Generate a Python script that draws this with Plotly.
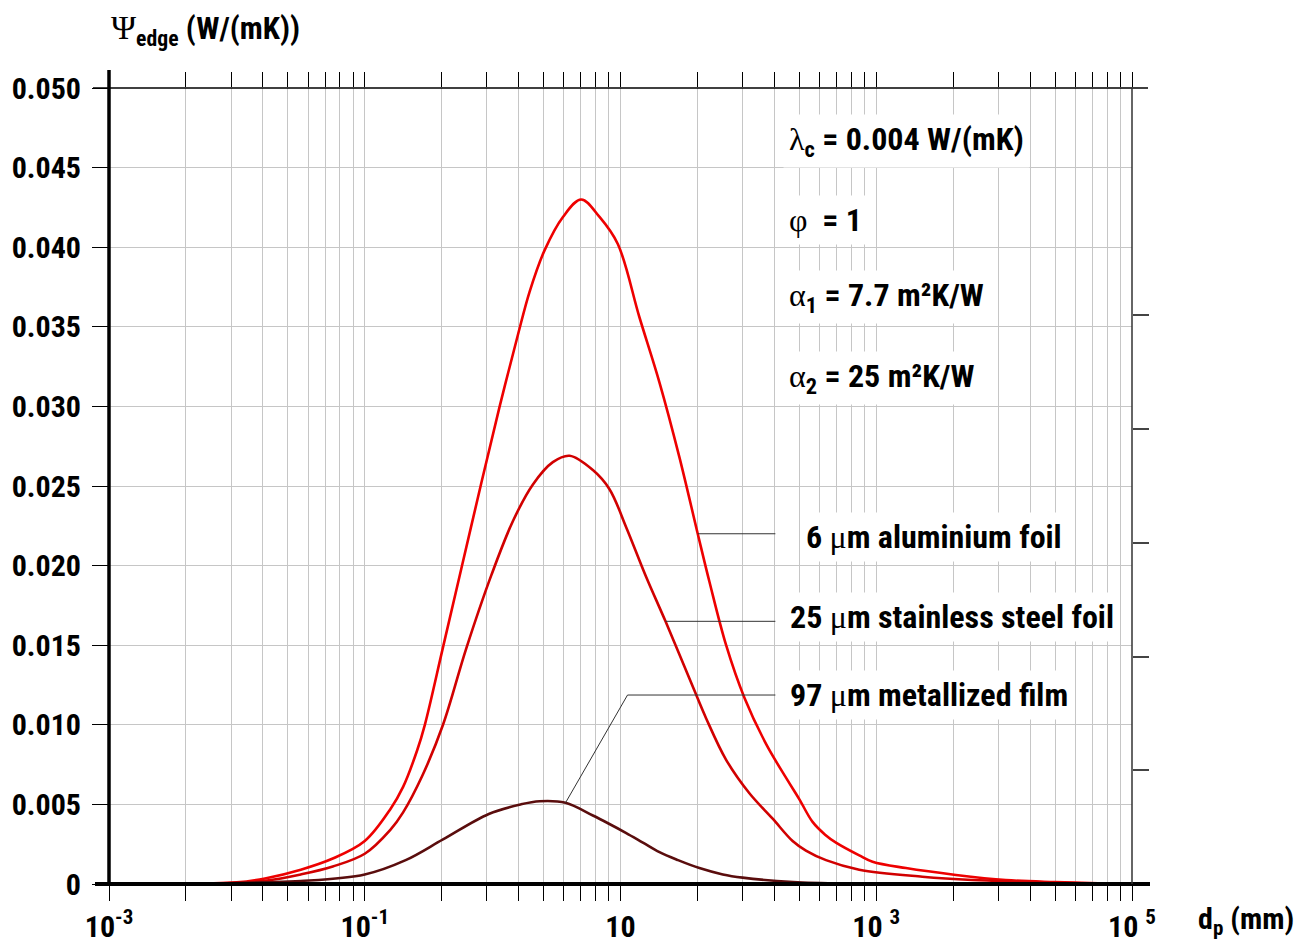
import plotly.graph_objects as go

# ---- data (x stored as exponent of the labelled log axis) ----
al_logd = [-2.47, -2.0, -1.78, -1.5, -1.25, -1.0, -0.8, -0.7, -0.59, -0.53, -0.39, -0.245, -0.088,
           0.055, 0.198, 0.289, 0.406, 0.55, 0.693, 0.836, 0.979, 1.148, 1.305, 1.461, 1.604, 1.695,
           1.826, 1.969, 2.138, 2.30, 2.40, 2.502, 2.60, 2.685, 2.867, 2.971, 3.232, 3.623, 4.013, 4.40, 4.8, 5.0]
al_psi = [0.0, 0.0001, 0.00035, 0.0009, 0.0016, 0.0027, 0.0047, 0.0061, 0.0084, 0.0100, 0.0148, 0.0198, 0.0252,
          0.0300, 0.0345, 0.0372, 0.0398, 0.0419, 0.0430, 0.0419, 0.0402, 0.0356, 0.0315, 0.0268, 0.0220, 0.0190,
          0.0150, 0.0117, 0.0088, 0.0066, 0.0053, 0.0039, 0.0031, 0.0026, 0.0018, 0.0014, 0.0010, 0.00057,
          0.00025, 0.00012, 0.00003, 0.0]

ss_logd = [-2.4, -2.0, -1.78, -1.5, -1.25, -1.0, -0.8, -0.7, -0.55, -0.388, -0.206, -0.01, 0.159, 0.315,
           0.471, 0.602, 0.784, 0.914, 1.045, 1.2, 1.352, 1.565, 1.67, 1.826, 2.008, 2.19, 2.346, 2.45, 2.607,
           2.867, 3.36, 3.75, 4.14, 4.6, 5.0]
ss_psi = [0.0, 0.00008, 0.0002, 0.0006, 0.0011, 0.0019, 0.0034, 0.0045, 0.0068, 0.0100, 0.0148, 0.0194, 0.0228,
          0.0251, 0.0265, 0.0269, 0.0260, 0.0248, 0.0224, 0.0193, 0.0165, 0.0124, 0.0104, 0.0078, 0.0057, 0.0041,
          0.0027, 0.0021, 0.0015, 0.0009, 0.00046, 0.00025, 0.00015, 0.00005, 0.0]

mf_logd = [-2.3, -1.8, -1.5, -1.0, -0.68, -0.388, -0.03, 0.22, 0.368, 0.57, 0.784, 0.906, 1.045, 1.175,
           1.305, 1.45, 1.617, 1.8, 1.955, 2.35, 2.8, 3.5, 5.0]
mf_psi = [0.0, 0.0001, 0.00018, 0.0006, 0.0015, 0.0028, 0.0044, 0.0050, 0.0052, 0.0051, 0.0043, 0.0038, 0.0032,
          0.0026, 0.0020, 0.0015, 0.0010, 0.0006, 0.0004, 0.00013, 0.00003, 0.0, 0.0]

series_names = ["6 \u03bcm aluminium foil", "25 \u03bcm stainless steel foil", "97 \u03bcm metallized film"]
series_colors = ["#ee0000", "#d10000", "#5a0d0d"]
leader_index = [24, 20, 9]          # data point where each label's leader line touches its curve
label_y = [0.0218, 0.0168, 0.01187]  # label rows (psi units)

major_exp = [-3, -1, 1, 3, 5]
major_text = ["10<sup>-3</sup>", "10<sup>-1</sup>", "10", "10 <sup>3</sup>", "10 <sup>5</sup>"]
y_ticks = [0.0, 0.005, 0.010, 0.015, 0.020, 0.025, 0.030, 0.035, 0.040, 0.045, 0.050]
y_text = ["0"] + ["%.3f" % v for v in y_ticks[1:]]

params = ["\u03bb<sub>c</sub> = 0.004 W/(mK)", "\u03c6  = 1",
          "\u03b1<sub>1</sub> = 7.7 m\u00b2K/W", "\u03b1<sub>2</sub> = 25 m\u00b2K/W"]

# ---- styling ----
FONT = "Liberation Sans Narrow, Arial Narrow, Roboto Condensed, DejaVu Sans Condensed, Liberation Sans, Arial"
SERIF = "Liberation Serif"
GRID = "#c6c6c6"

def greek(s):
    out = ""
    for ch in s:
        if ch in "\u03bb\u03c6\u03b1\u03bc\u03a8":
            out += '<span style="font-family:%s;font-weight:normal">%s</span>' % (SERIF, ch)
        else:
            out += ch
    return out

# grid positions: each labelled interval (factor 100) divided like one log cycle
major_vals = [10 ** a for a in major_exp]
minor_vals = []
for a in major_exp[:-1]:
    for k in range(2, 10):
        minor_vals.append(10 ** a * k * k)
all_vals = sorted(major_vals + minor_vals)

fig = go.Figure()
data = [(al_logd, al_psi), (ss_logd, ss_psi), (mf_logd, mf_psi)]
for (lx, py), name, col in zip(data, series_names, series_colors):
    fig.add_trace(go.Scatter(x=[10 ** v for v in lx], y=py, mode="lines", name=name,
                             line=dict(color=col, width=2.6, shape="spline", smoothing=1.0),
                             hoverinfo="skip", showlegend=False))

# leader lines (from the curve point to the label)
label_x_end = 10 ** 2.211
for (lx, py), idx, ly in zip(data, leader_index, label_y):
    x0, y0 = 10 ** lx[idx], py[idx]
    if abs(y0 - ly) > 0.002:
        xs = [x0, 10 ** 1.055, label_x_end]
        ys = [y0, ly, ly]
    else:
        xs = [x0, label_x_end]
        ys = [y0, y0]
    fig.add_trace(go.Scatter(x=xs, y=ys, mode="lines", line=dict(color="#333333", width=1),
                             hoverinfo="skip", showlegend=False))

# dummy trace to materialise the overlay axes (top ticks, right ticks)
fig.add_trace(go.Scatter(x=[], y=[], xaxis="x2", yaxis="y2", showlegend=False, hoverinfo="skip"))

fig.update_layout(
    width=1314, height=945,
    margin=dict(l=109, r=182, t=88, b=61, autoexpand=False),
    plot_bgcolor="white", paper_bgcolor="white",
    font=dict(family=FONT, size=30, color="black", weight="bold"),
    xaxis=dict(type="log", range=[-3, 5], tickmode="array", tickvals=major_vals, ticktext=major_text,
               showgrid=True, gridcolor=GRID, gridwidth=1.2, ticks="outside", ticklen=16, tickwidth=1.2,
               tickcolor="black", showline=False, zeroline=False, automargin=False,
               minor=dict(tickmode="array", tickvals=minor_vals, ticks="outside", ticklen=16, tickwidth=1.2,
                          tickcolor="black", showgrid=True, gridcolor=GRID, gridwidth=1.2),
               tickfont=dict(family=FONT, size=30, weight="bold")),
    xaxis2=dict(type="log", range=[-3, 5], overlaying="x", side="top", anchor="y", tickmode="array",
                tickvals=all_vals, showticklabels=False, ticks="outside", ticklen=15, tickwidth=1.2,
                tickcolor="black", showgrid=False, zeroline=False, showline=False, automargin=False),
    yaxis=dict(range=[0, 0.05], tickmode="array", tickvals=y_ticks, ticktext=y_text,
               showgrid=True, gridcolor=GRID, gridwidth=1.2, ticks="outside", ticklen=16, tickwidth=1.2,
               tickcolor="black", zeroline=False, showline=False, ticklabelstandoff=5, automargin=False,
               tickfont=dict(family=FONT, size=30, weight="bold")),
    yaxis2=dict(range=[0, 7], overlaying="y", side="right", anchor="x", tickmode="array",
                tickvals=[1, 2, 3, 4, 5], showticklabels=False, ticks="outside", ticklen=16, tickwidth=1.5,
                tickcolor="#444444", showgrid=False, zeroline=False, showline=False, automargin=False),
)

# frame lines
PW = 1023.0
PH = 796.0
shapes = [
    dict(type="line", xref="paper", yref="paper", x0=-14 / PW, x1=1 + 18 / PW, y0=0, y1=0,
         line=dict(color="black", width=4)),
    dict(type="line", xref="paper", yref="paper", x0=0, x1=0, y0=0, y1=1 + 18 / PH,
         line=dict(color="black", width=3.5)),
    dict(type="line", xref="paper", yref="paper", x0=-16 / PW, x1=1 + 16 / PW, y0=1, y1=1,
         line=dict(color="black", width=1.5)),
    dict(type="line", xref="paper", yref="paper", x0=1, x1=1, y0=0, y1=1,
         line=dict(color="#333333", width=1.5)),
]
fig.update_layout(shapes=shapes)

ann = []
# parameter block
for txt, yc in zip(params, [0.933, 0.834, 0.737, 0.636]):
    ann.append(dict(xref="paper", yref="paper", x=(783 - 109) / PW, y=yc, xanchor="left", yanchor="middle",
                    text=greek(txt), showarrow=False, bgcolor="white", borderpad=5,
                    font=dict(family=FONT, size=32, weight="bold", color="black")))
# series labels
for name, yc, xs in zip(series_names, [0.436, 0.335, 0.237], [800, 784, 784]):
    ann.append(dict(xref="paper", yref="paper", x=(xs - 109) / PW, y=yc, xanchor="left", yanchor="middle",
                    text=greek(name), showarrow=False, bgcolor="white", borderpad=5,
                    font=dict(family=FONT, size=32, weight="bold", color="black")))
# axis titles
ann.append(dict(xref="paper", yref="paper", x=0 / PW, y=(884 - 30) / PH, xanchor="left", yanchor="middle",
                text='<span style="font-family:%s;font-weight:normal;font-size:34px">\u03a8</span>' % SERIF
                     + "<sub>edge</sub> (W/(mK))", showarrow=False,
                font=dict(family=FONT, size=31, weight="bold", color="black")))
ann.append(dict(xref="paper", yref="paper", x=(1196 - 109) / PW, y=(884 - 920) / PH, xanchor="left",
                yanchor="middle", text="d<sub>p</sub> (mm)", showarrow=False,
                font=dict(family=FONT, size=30, weight="bold", color="black")))
fig.update_layout(annotations=ann)

fig.write_html("out.html", config={"displayModeBar": False},
               post_script="document.body.style.margin='0';document.body.style.overflow='hidden';")
